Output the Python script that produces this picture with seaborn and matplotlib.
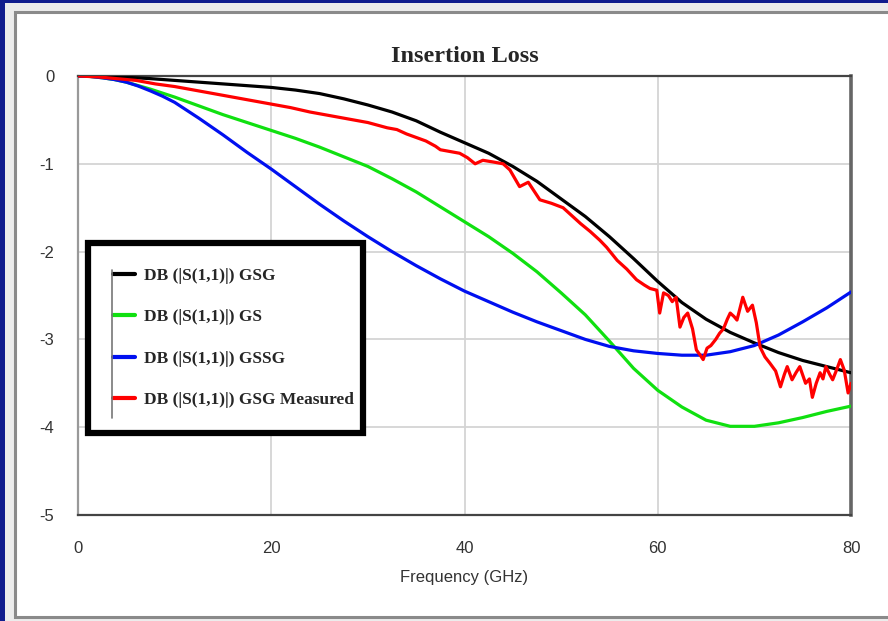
import matplotlib
matplotlib.use("Agg")
import matplotlib.pyplot as plt
from matplotlib.patches import Rectangle
from matplotlib.lines import Line2D
import numpy as np
import pandas as pd
import seaborn as sns

# Simulated insertion loss (dB); finer grid where the curves bend fastest
freq_sim = [0, 1.25, 2.5, 3.75, 5, 6.25, 7.5, 8.75, 10, 11.25, 12.5, 13.75, 15,
            17.5, 20, 22.5, 25, 27.5, 30, 32.5, 35, 37.5, 40, 42.5, 45, 47.5, 50,
            52.5, 55, 57.5, 60, 62.5, 65, 67.5, 70, 72.5, 75, 77.5, 80]
gsg = [0, -0.002, -0.005, -0.01, -0.015, -0.022, -0.03, -0.04, -0.05, -0.06,
       -0.07, -0.08, -0.09, -0.11, -0.13, -0.16, -0.2, -0.26, -0.33, -0.41, -0.51,
       -0.64, -0.76, -0.88, -1.03, -1.2, -1.4, -1.6, -1.83, -2.08, -2.34, -2.58,
       -2.77, -2.92, -3.04, -3.15, -3.24, -3.31, -3.38]
gs = [0, -0.005, -0.02, -0.04, -0.07, -0.11, -0.15, -0.195, -0.24, -0.29, -0.34,
      -0.39, -0.44, -0.53, -0.62, -0.71, -0.81, -0.92, -1.03, -1.17, -1.32, -1.49,
      -1.66, -1.83, -2.02, -2.23, -2.47, -2.72, -3.02, -3.33, -3.58, -3.77, -3.92,
      -3.99, -3.99, -3.95, -3.89, -3.82, -3.76]
gssg = [0, -0.005, -0.02, -0.04, -0.07, -0.115, -0.17, -0.23, -0.3, -0.39, -0.48,
        -0.575, -0.67, -0.87, -1.06, -1.26, -1.46, -1.65, -1.83, -2.0, -2.16, -2.31,
        -2.45, -2.57, -2.69, -2.8, -2.9, -3.0, -3.08, -3.13, -3.16, -3.18, -3.18,
        -3.14, -3.07, -2.95, -2.8, -2.64, -2.46]

# Measured GSG trace
freq_meas = [0, 2, 4, 6, 8, 10, 12, 14, 16, 18, 20, 22, 24, 26, 28, 30, 31, 32, 33,
             34, 35, 36, 37, 37.5, 38.5, 39.5, 40.3, 41.1, 41.9, 43, 44, 44.7, 45.7,
             46.6, 47.8, 49, 50.2, 51, 52, 53, 54, 54.7, 55.8, 56.8, 57.8, 58.6,
             59.2, 59.9, 60.2, 60.6, 61.1, 61.5, 61.9, 62.3, 62.7, 63.1, 63.6, 64,
             64.4, 64.7, 65.1, 65.5, 66, 66.4, 66.8, 67.2, 67.5, 67.9, 68.2, 68.8,
             69.3, 69.8, 70.2, 70.6, 71.1, 71.6, 72.2, 72.7, 73.1, 73.4, 73.9, 74.3,
             74.7, 75.3, 75.7, 76, 76.4, 76.8, 77.1, 77.4, 77.8, 78.1, 78.5, 78.9,
             79.3, 79.7, 80]
gsg_meas = [0, -0.01, -0.03, -0.05, -0.09, -0.12, -0.16, -0.2, -0.24, -0.28, -0.32,
            -0.36, -0.41, -0.45, -0.49, -0.53, -0.56, -0.59, -0.61, -0.66, -0.7,
            -0.74, -0.8, -0.84, -0.86, -0.88, -0.93, -1.0, -0.96, -0.98, -1.0,
            -1.07, -1.26, -1.21, -1.41, -1.45, -1.5, -1.58, -1.68, -1.77, -1.87,
            -1.95, -2.1, -2.2, -2.32, -2.38, -2.42, -2.44, -2.7, -2.47, -2.5, -2.57,
            -2.52, -2.86, -2.75, -2.7, -2.88, -3.12, -3.18, -3.23, -3.1, -3.07,
            -3.0, -2.93, -2.88, -2.77, -2.7, -2.74, -2.78, -2.52, -2.68, -2.61,
            -2.81, -3.09, -3.2, -3.27, -3.36, -3.54, -3.4, -3.31, -3.46, -3.38,
            -3.31, -3.5, -3.45, -3.66, -3.5, -3.38, -3.45, -3.31, -3.4, -3.46,
            -3.35, -3.23, -3.35, -3.61, -3.5]

labels = ["DB (|S(1,1)|) GSG", "DB (|S(1,1)|) GS", "DB (|S(1,1)|) GSSG",
          "DB (|S(1,1)|) GSG Measured"]
colors = ["#000000", "#10e010", "#0010f0", "#ff0000"]
x_ticks = [0, 20, 40, 60, 80]
y_ticks = [0, -1, -2, -3, -4, -5]

frames = []
for name, fx, vals in zip(labels, [freq_sim, freq_sim, freq_sim, freq_meas],
                          [gsg, gs, gssg, gsg_meas]):
    frames.append(pd.DataFrame({"Frequency": fx, "dB": vals, "trace": name}))
df = pd.concat(frames, ignore_index=True)

sns.set_style("white")
plt.rcParams["axes.unicode_minus"] = False

W, H = 888, 621
fig = plt.figure(figsize=(W / 100, H / 100), dpi=100, facecolor="#111d8e")

# Window chrome behind the chart
fig.patches.append(Rectangle((5 / W, 0), 1, 1 - 3 / H, transform=fig.transFigure,
                             facecolor="#ececec", edgecolor="none", zorder=-3))
fig.patches.append(Rectangle((15 / W, 4 / H), 1, (617 - 12) / H,
                             transform=fig.transFigure, facecolor="white",
                             edgecolor="#8a8a8a", linewidth=2.2, zorder=-2))

ax = fig.add_axes([78 / W, (H - 515) / H, (851 - 78) / W, (515 - 76) / H])
ax.set_facecolor("white")

sns.lineplot(data=df, x="Frequency", y="dB", hue="trace", hue_order=labels,
             palette=dict(zip(labels, colors)), estimator=None, sort=False,
             linewidth=2.3, ax=ax, zorder=3)

ax.set_xlim(0, 80)
ax.set_ylim(-5, 0)
ax.set_xticks(x_ticks)
ax.set_yticks(y_ticks)
ax.set_xticklabels([str(t) for t in x_ticks])
ax.set_yticklabels([str(t) for t in y_ticks])
ax.grid(True, color="#d4d4d4", linewidth=1.3, zorder=0)
ax.set_axisbelow(True)

sans = ["Liberation Sans", "DejaVu Sans"]
ax.tick_params(axis="both", length=0, colors="#333333")
ax.tick_params(axis="x", pad=19)
ax.tick_params(axis="y", pad=17)
for lab in ax.get_xticklabels() + ax.get_yticklabels():
    lab.set_fontfamily(sans)
    lab.set_fontsize(12)

ax.set_xlabel("Frequency (GHz)", family=sans, fontsize=12, color="#333333",
              labelpad=10)
ax.set_ylabel("")
ax.set_title("Insertion Loss", family=["Liberation Serif", "DejaVu Serif"],
             fontweight="bold", fontsize=17.5, pad=10)

for side, col, lw in [("left", "#999999", 1.6), ("bottom", "#444444", 1.6),
                      ("top", "#444444", 1.6), ("right", "#666666", 2.6)]:
    ax.spines[side].set_visible(True)
    ax.spines[side].set_color(col)
    ax.spines[side].set_linewidth(lw)

leg = ax.legend(loc="upper left", bbox_to_anchor=(0.013, 0.62, 0.356, 0.0),
                mode="expand", frameon=True, fancybox=False, framealpha=1,
                edgecolor="black", borderpad=1.45, labelspacing=1.45,
                handlelength=1.25, handletextpad=0.55, borderaxespad=0,
                prop=dict(family=["Liberation Serif", "DejaVu Serif"],
                          weight="bold", size=12.5))
leg.get_frame().set_linewidth(4.5)
leg.set_zorder(5)
for h in leg.get_lines():
    h.set_linewidth(3)

# Thin bracket line along the legend handles
ax.add_line(Line2D([(112 - 78) / 773] * 2, [(515 - 270) / 439, (515 - 418) / 439],
                   transform=ax.transAxes, color="#777777", linewidth=1.2,
                   zorder=6))

fig.savefig("out.png", dpi=100, facecolor=fig.get_facecolor())
